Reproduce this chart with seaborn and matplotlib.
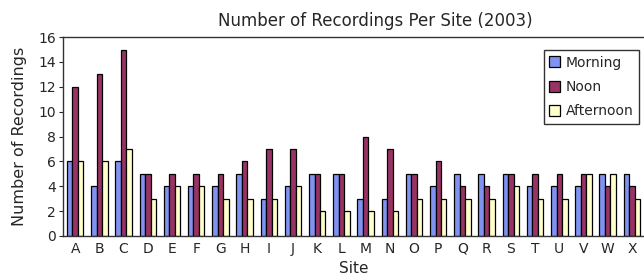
import matplotlib
matplotlib.use("Agg")
import matplotlib.pyplot as plt
import seaborn as sns
import pandas as pd
import numpy as np

sns.set_style("white")
plt.rcParams['font.family'] = ['DejaVu Sans']

# data
sites = list("ABCDEFGHIJKLMNOPQRSTUVWX")
morning   = [6, 4, 6, 5, 4, 4, 4, 5, 3, 4, 5, 5, 3, 3, 5, 4, 5, 5, 5, 4, 4, 4, 5, 5]
noon      = [12, 13, 15, 5, 5, 5, 5, 6, 7, 7, 5, 5, 8, 7, 5, 6, 4, 4, 5, 5, 5, 5, 4, 4]
afternoon = [6, 6, 7, 3, 4, 4, 3, 3, 3, 4, 2, 2, 2, 2, 3, 3, 3, 3, 4, 3, 3, 5, 5, 3]
periods = ["Morning", "Noon", "Afternoon"]
colors = ["#8093F1", "#993366", "#FFFFCC"]

df = pd.DataFrame({
    "Site": sites * 3,
    "Period": np.repeat(periods, len(sites)),
    "Count": morning + noon + afternoon,
})

fig = plt.figure(figsize=(6.44, 2.75), dpi=100)
ax = fig.add_axes([0.098, 0.142, 0.902, 0.723])

sns.barplot(data=df, x="Site", y="Count", hue="Period", hue_order=periods,
            palette=colors, width=0.68, gap=0, edgecolor="black", linewidth=0.9,
            saturation=1, ax=ax)

ax.set_xlim(-0.5, len(sites) - 0.5)
ax.set_ylim(0, 16)
ax.set_yticks(range(0, 17, 2))
ax.set_xticks(np.arange(-0.5, len(sites), 1), minor=True)
ax.tick_params(axis="x", which="major", length=0, labelsize=10, pad=4)
ax.tick_params(axis="x", which="minor", length=4, width=0.8, color="#555555", direction="out")
ax.tick_params(axis="y", length=3, width=0.8, labelsize=10, pad=2, left=True, direction="out")

for s in ["top", "left", "bottom"]:
    ax.spines[s].set_visible(True)
    ax.spines[s].set_color("#333333")
    ax.spines[s].set_linewidth(1.0)
ax.spines["right"].set_visible(False)

ax.set_title("Number of Recordings Per Site (2003)", fontsize=12, pad=8, x=0.537)
ax.set_ylabel("Number of Recordings", fontsize=11.5, labelpad=8)
ax.set_xlabel("Site", fontsize=11, labelpad=4)

leg = ax.legend(loc="upper right", bbox_to_anchor=(0.992, 0.935), fontsize=10,
                frameon=True, fancybox=False, edgecolor="black",
                handlelength=0.8, handleheight=0.8, handletextpad=0.4,
                borderpad=0.4, labelspacing=0.75, borderaxespad=0)
leg.get_frame().set_linewidth(1.0)

fig.savefig("out.png", dpi=100)
